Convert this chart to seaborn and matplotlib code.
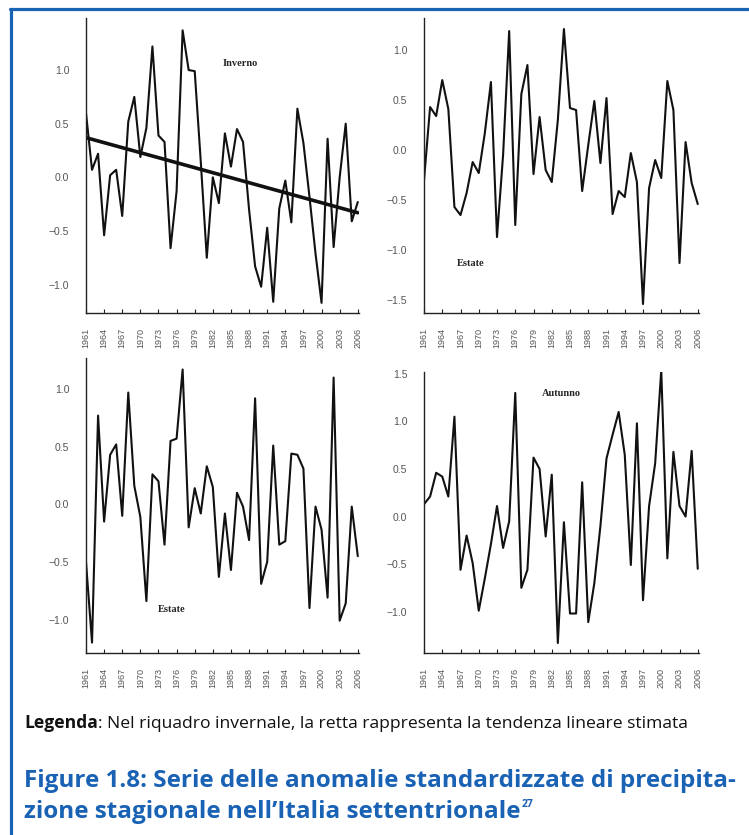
import numpy as np
import pandas as pd
import matplotlib.pyplot as plt
from matplotlib.lines import Line2D
import seaborn as sns

sns.set_theme(style="white")
plt.rcParams['font.family'] = ['Liberation Sans', 'DejaVu Sans']

# anni 1961-2006
anni = list(range(1961, 2007))

inverno = [0.60, 0.07, 0.22, -0.54, 0.02, 0.07, -0.36, 0.52, 0.75, 0.19,
           0.46, 1.22, 0.39, 0.33, -0.66, -0.13, 1.37, 1.00, 0.99, 0.15,
           -0.75, 0.00, -0.24, 0.41, 0.10, 0.45, 0.33, -0.30, -0.83, -1.02,
           -0.47, -1.16, -0.29, -0.03, -0.42, 0.64, 0.32, -0.18, -0.71, -1.17,
           0.36, -0.65, 0.00, 0.50, -0.41, -0.23]
# retta di tendenza (valori agli estremi)
trend_anni = [1961, 2006]
trend_val = [0.37, -0.33]

estate = [-0.30, 0.43, 0.34, 0.70, 0.41, -0.57, -0.65, -0.43, -0.12, -0.23,
          0.17, 0.68, -0.87, -0.05, 1.19, -0.75, 0.56, 0.85, -0.24, 0.33,
          -0.20, -0.32, 0.30, 1.21, 0.42, 0.40, -0.41, 0.05, 0.49, -0.13,
          0.52, -0.64, -0.41, -0.47, -0.03, -0.32, -1.54, -0.38, -0.10, -0.28,
          0.69, 0.40, -1.13, 0.08, -0.33, -0.54]

primavera = [-0.50, -1.20, 0.77, -0.15, 0.43, 0.52, -0.10, 0.97, 0.16, -0.11,
             -0.84, 0.26, 0.20, -0.35, 0.55, 0.57, 1.17, -0.20, 0.14, -0.08,
             0.33, 0.15, -0.63, -0.08, -0.57, 0.10, -0.02, -0.31, 0.92, -0.69,
             -0.50, 0.51, -0.35, -0.32, 0.44, 0.43, 0.31, -0.90, -0.02, -0.22,
             -0.81, 1.10, -1.01, -0.86, -0.02, -0.45]

autunno = [0.13, 0.21, 0.46, 0.42, 0.21, 1.05, -0.56, -0.20, -0.49, -0.99,
           -0.65, -0.29, 0.11, -0.33, -0.05, 1.30, -0.75, -0.56, 0.62, 0.50,
           -0.21, 0.44, -1.33, -0.06, -1.02, -1.02, 0.36, -1.11, -0.70, -0.10,
           0.61, 0.86, 1.10, 0.65, -0.51, 0.98, -0.88, 0.11, 0.56, 1.54,
           -0.44, 0.68, 0.11, 0.00, 0.69, -0.55]

tick_anni = list(range(1961, 2007, 3))

pannelli = [
    # serie, etichetta, pos etichetta, rect, ylim, yticks
    (inverno, 'Inverno', (0.564, 0.847), [0.1148, 0.6251, 0.3645, 0.3533], (-1.265, 1.485),
     [-1.0, -0.5, 0.0, 0.5, 1.0]),
    (estate, 'Estate', (0.171, 0.169), [0.5661, 0.6251, 0.3671, 0.3533], (-1.63, 1.32),
     [-1.5, -1.0, -0.5, 0.0, 0.5, 1.0]),
    (primavera, 'Estate', (0.315, 0.149), [0.1148, 0.2180, 0.3645, 0.3533], (-1.29, 1.27),
     [-1.0, -0.5, 0.0, 0.5, 1.0]),
    (autunno, 'Autunno', (0.498, 0.925), [0.5661, 0.2180, 0.3671, 0.3365], (-1.435, 1.52),
     [-1.0, -0.5, 0.0, 0.5, 1.0, 1.5]),
]

fig = plt.figure(figsize=(7.49, 8.35), dpi=100)

for i, (serie, nome, pos, rect, ylim, yticks) in enumerate(pannelli):
    ax = fig.add_axes(rect)
    df = pd.DataFrame({'anno': anni, 'valore': serie})
    sns.lineplot(data=df, x='anno', y='valore', ax=ax, color='#111111', linewidth=1.5)
    if i == 0:
        sns.lineplot(x=trend_anni, y=trend_val, ax=ax, color='#111111', linewidth=2.6)
    ax.set_xlim(1961, 2006.2)
    ax.set_ylim(*ylim)
    ax.set_xticks(tick_anni)
    ax.set_xticklabels([str(a) for a in tick_anni], rotation=90)
    ax.set_yticks(yticks)
    ax.set_yticklabels([f'{v:.1f}'.replace('-', '\u2212') for v in yticks])
    ax.set_xlabel('')
    ax.set_ylabel('')
    for s in ['top', 'right']:
        ax.spines[s].set_visible(False)
    for s in ['left', 'bottom']:
        ax.spines[s].set_color('#222222')
        ax.spines[s].set_linewidth(1.0)
    ax.tick_params(axis='x', direction='in', length=3, width=0.8, color='#222222',
                   labelsize=6.5, labelcolor='#555555', pad=11, bottom=True)
    ax.tick_params(axis='y', length=0, labelsize=7.5, labelcolor='#555555', pad=12)
    ax.text(pos[0], pos[1], nome, transform=ax.transAxes, ha='center', va='center',
            fontsize=7.5, fontweight='bold', family=['Liberation Serif'])

# cornice blu
blu = '#1a62b4'
fig.add_artist(Line2D([0.0141, 0.0141], [0.0, 0.9898], color=blu, linewidth=2.3))
fig.add_artist(Line2D([0.0128, 1.0], [0.9898, 0.9898], color=blu, linewidth=2.3))

font_testo = ['Open Sans', 'Liberation Sans']
x0 = 24 / 749

# legenda
renderer = fig.canvas.get_renderer()
t1 = fig.text(x0, 1 - 728 / 835, 'Legenda', fontsize=12.6, fontweight='bold',
              va='baseline', ha='left', color='#111111', family=font_testo)
bb = t1.get_window_extent(renderer)
fig.text(bb.x1 / fig.bbox.width, 1 - 728 / 835,
         ': Nel riquadro invernale, la retta rappresenta la tendenza lineare stimata',
         fontsize=12.6, va='baseline', ha='left', color='#111111', family=font_testo)

# didascalia
fig.text(x0, 1 - 787 / 835,
         'Figure 1.8: Serie delle anomalie standardizzate di precipita-',
         fontsize=17.5, fontweight='bold', color=blu, va='baseline', ha='left',
         family=font_testo)
t2 = fig.text(x0, 1 - 818 / 835,
              'zione stagionale nell\u2019Italia settentrionale',
              fontsize=17.5, fontweight='bold', color=blu, va='baseline', ha='left',
              family=font_testo)
bb2 = t2.get_window_extent(renderer)
fig.text(bb2.x1 / fig.bbox.width + 0.001, 1 - 807 / 835, '27', fontsize=7.5,
         fontweight='bold', color=blu, va='baseline', ha='left', family=font_testo)

fig.savefig('out.png', dpi=100)
